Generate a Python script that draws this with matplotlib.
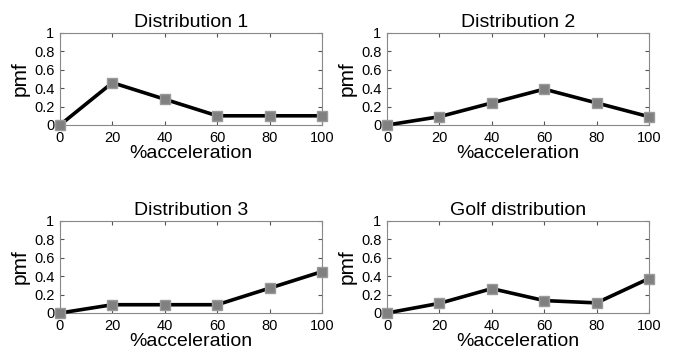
import numpy as np
import matplotlib.pyplot as plt

plt.rcParams['font.family'] = ['Liberation Sans', 'DejaVu Sans']

x = [0, 20, 40, 60, 80, 100]
titles = ['Distribution 1', 'Distribution 2', 'Distribution 3', 'Golf distribution']
d1 = [0, 0.46, 0.28, 0.10, 0.10, 0.10]
d2 = [0, 0.09, 0.24, 0.39, 0.24, 0.09]
d3 = [0, 0.09, 0.09, 0.09, 0.27, 0.45]
golf = [0, 0.105, 0.265, 0.135, 0.11, 0.375]
series = [d1, d2, d3, golf]

fig = plt.figure(figsize=(6.76, 3.56), dpi=100)
W, H = 676, 356
boxes = [(60, 33, 322, 125), (387, 33, 649, 125),
         (60, 221, 322, 313), (387, 221, 649, 313)]

for (l, t, r, b), y, title in zip(boxes, series, titles):
    ax = fig.add_axes([l / W, 1 - b / H, (r - l) / W, (b - t) / H])
    ax.plot(x, y, color='black', lw=2.6, marker='s', ms=7,
            mfc='#808080', mec='#9a9a9a', mew=1, clip_on=False, zorder=3)
    ax.set_xlim(0, 100)
    ax.set_ylim(0, 1)
    ax.set_xticks(x)
    ax.set_yticks([0, 0.2, 0.4, 0.6, 0.8, 1])
    ax.set_yticklabels(['0', '0.2', '0.4', '0.6', '0.8', '1'])
    ax.tick_params(direction='in', top=True, right=True, labelsize=10.5,
                   length=3, color='#555555', pad=4)
    for s in ax.spines.values():
        s.set_color('#888888')
    ax.set_title(title, fontsize=14, pad=4)
    ax.set_xlabel('%acceleration', fontsize=14, labelpad=0)
    ax.set_ylabel('pmf', fontsize=15, labelpad=3)

fig.savefig('out.png', dpi=100)
